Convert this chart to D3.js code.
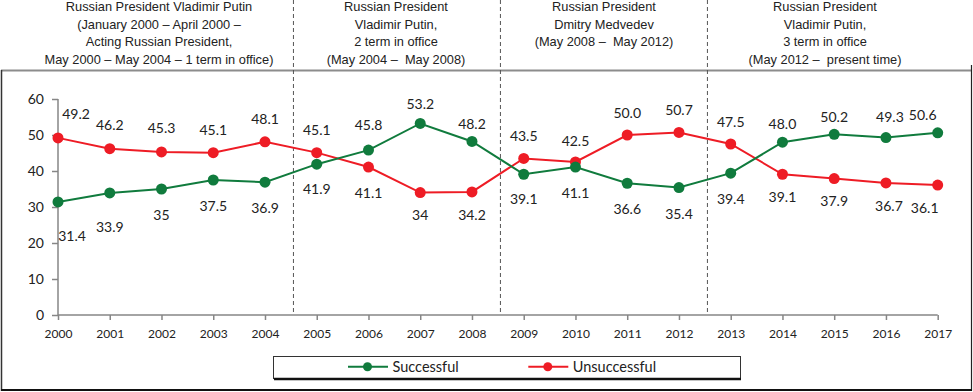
<!DOCTYPE html>
<html><head><meta charset="utf-8">
<script src="https://cdn.jsdelivr.net/npm/d3@7/dist/d3.min.js"></script>
<style>body{margin:0;background:#fff}svg{display:block}</style>
</head><body><svg id="c" width="973" height="392"></svg>
<script>
const years = [2000,2001,2002,2003,2004,2005,2006,2007,2008,2009,2010,2011,2012,2013,2014,2015,2016,2017];
const successful = [31.4,33.9,35,37.5,36.9,41.9,45.8,53.2,48.2,39.1,41.1,36.6,35.4,39.4,48.0,50.2,49.3,50.6];
const unsuccessful = [49.2,46.2,45.3,45.1,48.1,45.1,41.1,34,34.2,43.5,42.5,50.0,50.7,47.5,39.1,37.9,36.7,36.1];
const successfulText = ["31.4","33.9","35","37.5","36.9","41.9","45.8","53.2","48.2","39.1","41.1","36.6","35.4","39.4","48.0","50.2","49.3","50.6"];
const unsuccessfulText = ["49.2","46.2","45.3","45.1","48.1","45.1","41.1","34","34.2","43.5","42.5","50.0","50.7","47.5","39.1","37.9","36.7","36.1"];
const yTicks = [0,10,20,30,40,50,60];
const seriesNames = ["Successful","Unsuccessful"];
const periodBreaks = [2004.55, 2008.55, 2012.55];
const periodTexts = [
  ["Russian President Vladimir Putin","(January 2000 \u2013 April 2000 \u2013","Acting Russian President,","May 2000 \u2013 May 2004 \u2013 1 term in office)"],
  ["Russian President","Vladimir Putin,","2 term in office","(May 2004 \u2013  May 2008)"],
  ["Russian President","Dmitry Medvedev","(May 2008 \u2013  May 2012)"],
  ["Russian President","Vladimir Putin,","3 term in office","(May 2012 \u2013  present time)"]
];

// layout (label nudges, not data)
const succNudge = [[14,34],[0,34],[0,25],[0,25],[0,25],[0,24],[0,-26],[0,-20],[0,-18],[0,24],[0,25],[0,25],[0,26],[0,25],[0,-19],[0,-18],[4,-21],[-15,-18]];
const failNudge = [[18,-24],[0,-24],[0,-24],[0,-23],[0,-23],[0,-23],[0,25],[0,22],[0,23],[0,-23],[0,-22],[0,-23],[0,-23],[0,-23],[0,22],[0,22],[3,23],[-13,22]];
const headerCenters = [159, 396, 604, 825];

const svg = d3.select("#c");
const x = d3.scaleLinear().domain([2000,2017]).range([58,937.7]);
const y = d3.scaleLinear().domain([0,60]).range([315,99]);
const green = "#107b3d", red = "#ee1c25";
const numFont = "Lato, 'Open Sans', sans-serif";

// outer frame
svg.append("line").attr("x1",1).attr("x2",972).attr("y1",70.5).attr("y2",70.5).attr("stroke","#8c8c8c").attr("stroke-width",2);
svg.append("line").attr("x1",1.5).attr("x2",1.5).attr("y1",70).attr("y2",391).attr("stroke","#333").attr("stroke-width",1.5);
svg.append("line").attr("x1",971.5).attr("x2",971.5).attr("y1",65).attr("y2",391).attr("stroke","#222").attr("stroke-width",1.2);
svg.append("line").attr("x1",1).attr("x2",972).attr("y1",390).attr("y2",390).attr("stroke","#111").attr("stroke-width",2);

// period separators
svg.selectAll(".brk").data(periodBreaks).join("line")
  .attr("x1",d=>x(d)).attr("x2",d=>x(d)).attr("y1",0).attr("y2",315)
  .attr("stroke","#555").attr("stroke-width",1).attr("stroke-dasharray","4,3");

// headers
periodTexts.forEach((lines,i)=>{
  const t = svg.append("text").attr("text-anchor","middle")
    .attr("font-family","'Liberation Sans', Arial, sans-serif").attr("font-size",12.8).attr("fill","#222")
    .style("white-space","pre");
  lines.forEach((s,j)=>t.append("tspan").attr("x",headerCenters[i]).attr("y",10.7+j*17.8).text(s));
});

// axes
const yAxis = d3.axisLeft(y).tickValues(yTicks).tickSize(6).tickPadding(8).tickFormat(d3.format("d"));
const gy = svg.append("g").attr("transform","translate(58,0)").call(yAxis);
const xAxis = d3.axisBottom(x).tickValues(years).tickSize(5).tickPadding(9).tickFormat(d3.format("d"));
const gx = svg.append("g").attr("transform","translate(0,315)").call(xAxis);
[gy,gx].forEach(g=>{
  g.select(".domain").attr("stroke","#868686").attr("stroke-width",1.5);
  g.selectAll(".tick line").attr("stroke","#868686").attr("stroke-width",1.5);
  g.selectAll("text").attr("fill","#222").attr("font-family",numFont);
});
gy.selectAll("text").attr("font-size",14);
gx.selectAll("text").attr("font-size",12);
gy.select(".domain").attr("d","M0,315V99");
gx.select(".domain").attr("d","M58,0H937.7");

// series
const line = d3.line().x((d,i)=>x(years[i])).y(d=>y(d));
function drawSeries(vals, txt, nudge, color){
  svg.append("path").datum(vals).attr("d",line).attr("fill","none").attr("stroke",color).attr("stroke-width",2);
  svg.append("g").selectAll("circle").data(vals).join("circle")
    .attr("cx",(d,i)=>x(years[i])).attr("cy",d=>y(d)).attr("r",5.5).attr("fill",color);
}
function drawLabels(vals, txt, nudge){
  svg.append("g").selectAll("text").data(vals).join("text")
    .attr("x",(d,i)=>x(years[i])+nudge[i][0]).attr("y",(d,i)=>y(d)+nudge[i][1])
    .attr("text-anchor","middle").attr("dominant-baseline","central")
    .attr("font-family",numFont).attr("font-size",14).attr("fill","#222")
    .text((d,i)=>txt[i]);
}
drawSeries(unsuccessful, unsuccessfulText, failNudge, red);
drawSeries(successful, successfulText, succNudge, green);
drawLabels(unsuccessful, unsuccessfulText, failNudge);
drawLabels(successful, successfulText, succNudge);

// legend
const lg = svg.append("g");
lg.append("rect").attr("x",273.5).attr("y",356.5).attr("width",467).attr("height",22).attr("fill","#fff").attr("stroke","#333").attr("stroke-width",1);
lg.append("line").attr("x1",274).attr("x2",741).attr("y1",379).attr("y2",379).attr("stroke","#111").attr("stroke-width",2.5);
const legendItems = [{name:seriesNames[0],color:green,x0:348},{name:seriesNames[1],color:red,x0:528.3}];
legendItems.forEach(it=>{
  lg.append("line").attr("x1",it.x0).attr("x2",it.x0+40).attr("y1",366.7).attr("y2",366.7).attr("stroke",it.color).attr("stroke-width",2);
  lg.append("circle").attr("cx",it.x0+19.5).attr("cy",366.7).attr("r",4.5).attr("fill",it.color);
  lg.append("text").attr("x",it.x0+44.5).attr("y",366.7).attr("dominant-baseline","central")
    .attr("font-family",numFont).attr("font-size",14.5).attr("fill","#222").text(it.name);
});
</script></body></html>
